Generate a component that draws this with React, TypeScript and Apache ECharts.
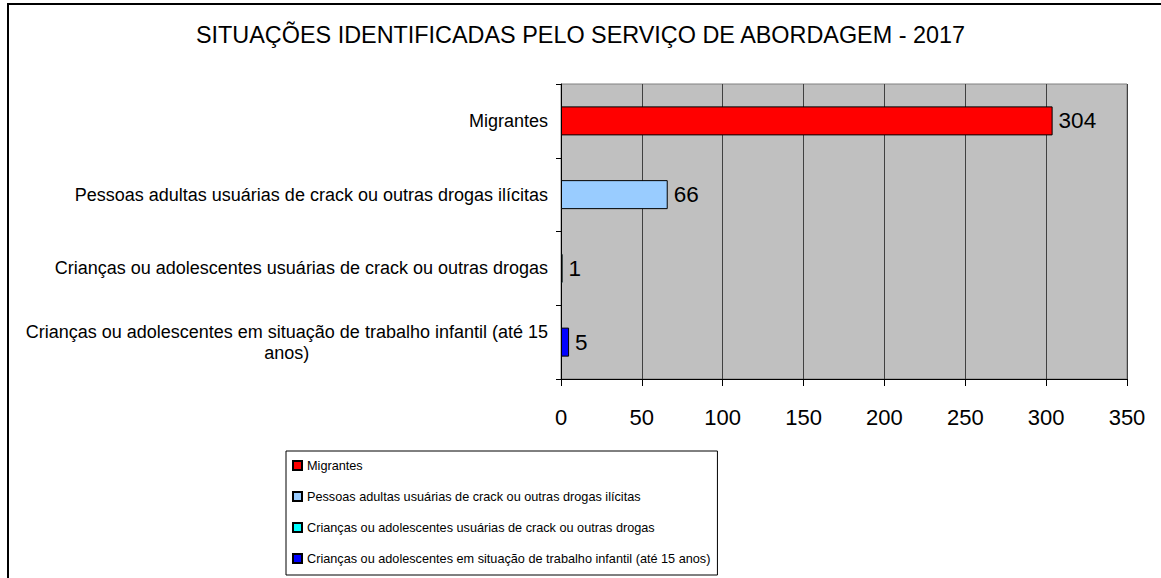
import React, { useEffect, useRef } from "react";
import * as echarts from "echarts";

const titleText = "SITUAÇÕES IDENTIFICADAS PELO SERVIÇO DE ABORDAGEM - 2017";
const categories = [
  "Migrantes",
  "Pessoas adultas usuárias de crack ou outras drogas ilícitas",
  "Crianças ou adolescentes usuárias de crack ou outras drogas",
  "Crianças ou adolescentes em situação de trabalho infantil (até 15 anos)",
];
const values = [304, 66, 1, 5];
const colors = ["#FF0000", "#99CCFF", "#00FFFF", "#0000FF"];
const xMin = 0;
const xMax = 350;
const xInterval = 50;
// axis label lines (the last category wraps on two lines)
const wrappedLabels: Record<string, string[]> = {
  "Crianças ou adolescentes em situação de trabalho infantil (até 15 anos)": [
    "Crianças ou adolescentes em situação de trabalho infantil (até 15",
    "anos)",
  ],
};

const FONT = '"Liberation Sans", Arial, Helvetica, sans-serif';

export default function App() {
  const ref = useRef<HTMLDivElement>(null);
  useEffect(() => {
    if (!ref.current) return;
    const chart = echarts.init(ref.current, null, { renderer: "svg" });
    const series = categories.map((name, i) => ({
      type: "bar",
      name,
      stack: "all",
      barWidth: 29,
      data: values.map((v, j) => (j === i ? v : "-")),
      itemStyle: { color: colors[i], borderColor: "#000", borderWidth: 1 },
      label: {
        show: true,
        position: "right",
        distance: 6,
        fontSize: 22.5,
        color: "#000",
        fontFamily: FONT,
      },
    }));
    chart.setOption({
      animation: false,
      backgroundColor: "#fff",
      textStyle: { fontFamily: FONT },
      title: {
        text: titleText,
        left: "center",
        top: 18,
        textStyle: { fontSize: 23.4, fontWeight: "normal", color: "#000", fontFamily: FONT },
      },
      graphic: [
        {
          type: "rect",
          shape: { x: 8, y: 4, width: 1300, height: 800 },
          style: { fill: "none", stroke: "#000", lineWidth: 2 },
          silent: true,
          z: 100,
        },
      ],
      legend: {
        orient: "vertical",
        left: 286,
        top: 451,
        itemWidth: 9,
        itemHeight: 9,
        itemGap: 18,
        padding: [8, 7, 10, 6],
        borderColor: "#000",
        borderWidth: 1,
        backgroundColor: "#fff",
        icon: "rect",
        textStyle: { fontSize: 12.7, color: "#000", fontFamily: FONT },
        data: categories,
      },
      grid: {
        left: 561,
        top: 84,
        width: 566,
        height: 295,
        show: true,
        backgroundColor: "#C0C0C0",
        borderColor: "#808080",
        borderWidth: 1,
        containLabel: false,
      },
      xAxis: {
        type: "value",
        min: xMin,
        max: xMax,
        interval: xInterval,
        axisLine: { show: true, lineStyle: { color: "#000", width: 1 } },
        axisTick: { show: true, length: 7, lineStyle: { color: "#000" } },
        axisLabel: { fontSize: 22, color: "#000", margin: 27, fontFamily: FONT },
        splitLine: { show: true, lineStyle: { color: "#404040", width: 1 } },
      },
      yAxis: {
        type: "category",
        inverse: true,
        data: categories,
        axisLine: { show: true, lineStyle: { color: "#000", width: 1 } },
        axisTick: { show: true, length: 5, alignWithLabel: false, lineStyle: { color: "#000" } },
        axisLabel: {
          fontSize: 18,
          color: "#000",
          margin: 13,
          fontFamily: FONT,
          formatter: (v: string) => {
            const lines = wrappedLabels[v];
            if (!lines) return v;
            return lines.map((l) => `{c|${l}}`).join("\n");
          },
          rich: {
            c: { fontSize: 18, color: "#000", fontFamily: FONT, align: "center", lineHeight: 21 },
          },
        },
        splitLine: { show: false },
      },
      series,
    });
    return () => chart.dispose();
  }, []);
  return (
    <div
      ref={ref}
      style={{ position: "fixed", left: 0, top: 0, width: 1161, height: 578 }}
    />
  );
}
